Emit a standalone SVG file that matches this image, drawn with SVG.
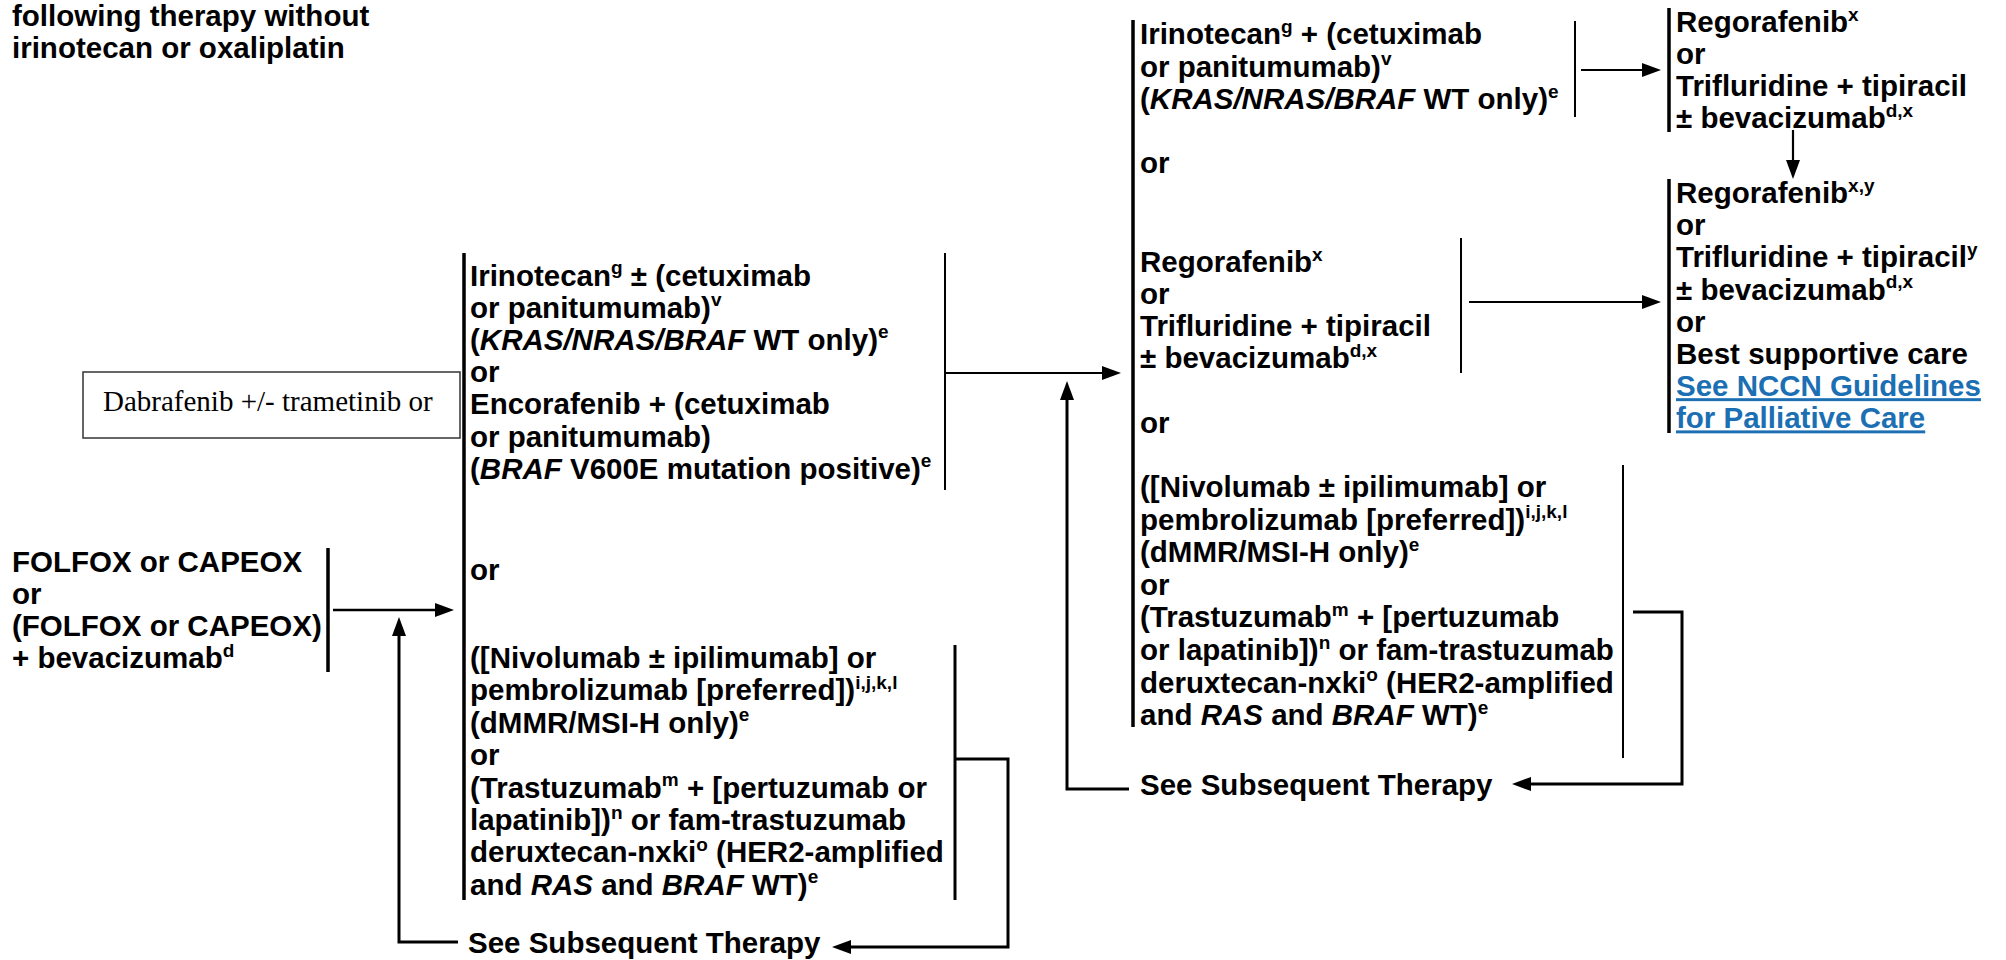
<svg xmlns="http://www.w3.org/2000/svg" width="2006" height="960" viewBox="0 0 2006 960">
<style>
text{font-family:"Liberation Sans",Arial,Helvetica,sans-serif;font-weight:bold;font-size:29.5px;fill:#000}
.s{font-size:19px}
.i{font-style:italic}
.serif{font-family:"Liberation Serif","Times New Roman",serif;font-weight:normal;font-size:29px}
.link{fill:#1b6fb2;text-decoration:underline}
.bl{stroke:#000;stroke-width:3.5;fill:none}
.br{stroke:#000;stroke-width:2;fill:none}
.ar{stroke:#000;stroke-width:2.2;fill:none;marker-end:url(#ah)}
.fb{stroke:#000;stroke-width:3;fill:none;marker-end:url(#ah)}
.box{fill:#fff;stroke:#333;stroke-width:1.5}
</style>
<defs>
<marker id="ah" markerUnits="userSpaceOnUse" markerWidth="19" markerHeight="14" refX="9" refY="7" orient="auto">
<path d="M0,0 L19,7 L0,14 z" fill="#000"/>
</marker>
</defs>
<rect width="2006" height="960" fill="#fff"/>

<g id="title">
<text x="12" y="26">following therapy without</text>
<text x="12" y="58">irinotecan or oxaliplatin</text>
</g>

<g id="dabrafenib-box">
<rect class="box" x="83" y="372" width="377" height="66"/>
<text class="serif" x="103" y="411">Dabrafenib +/- trametinib or</text>
</g>

<g id="folfox">
<text x="12" y="572">FOLFOX or CAPEOX</text>
<text x="12" y="604">or</text>
<text x="12" y="636">(FOLFOX or CAPEOX)</text>
<text x="12" y="668">+ bevacizumab<tspan class="s" dy="-11.5">d</tspan></text>
<line class="bl" x1="328" y1="548" x2="328" y2="672"/>
</g>

<g id="second-line-upper">
<text x="470" y="285.5">Irinotecan<tspan class="s" dy="-11.5">g</tspan><tspan dy="11.5"> ± (cetuximab</tspan></text>
<text x="470" y="317.7">or panitumumab)<tspan class="s" dy="-11.5">v</tspan></text>
<text x="470" y="349.9">(<tspan class="i">KRAS/NRAS/BRAF</tspan> WT only)<tspan class="s" dy="-11.5">e</tspan></text>
<text x="470" y="382.1">or</text>
<text x="470" y="414.3">Encorafenib + (cetuximab</text>
<text x="470" y="446.5">or panitumumab)</text>
<text x="470" y="478.7">(<tspan class="i">BRAF</tspan> V600E mutation positive)<tspan class="s" dy="-11.5">e</tspan></text>
<line class="br" x1="945" y1="253" x2="945" y2="490"/>
</g>

<g id="second-line-or">
<text x="470" y="580">or</text>
</g>

<g id="second-line-lower">
<text x="470" y="668">([Nivolumab ± ipilimumab] or</text>
<text x="470" y="700.4">pembrolizumab [preferred])<tspan class="s" dy="-11.5">i,j,k,l</tspan></text>
<text x="470" y="732.8">(dMMR/MSI-H only)<tspan class="s" dy="-11.5">e</tspan></text>
<text x="470" y="765.2">or</text>
<text x="470" y="797.6">(Trastuzumab<tspan class="s" dy="-11.5">m</tspan><tspan dy="11.5"> + [pertuzumab or</tspan></text>
<text x="470" y="830">lapatinib])<tspan class="s" dy="-11.5">n</tspan><tspan dy="11.5"> or fam-trastuzumab</tspan></text>
<text x="470" y="862.4">deruxtecan-nxki<tspan class="s" dy="-11.5">o</tspan><tspan dy="11.5"> (HER2-amplified</tspan></text>
<text x="470" y="894.8">and <tspan class="i">RAS</tspan> and <tspan class="i">BRAF</tspan> WT)<tspan class="s" dy="-11.5">e</tspan></text>
<line class="bl" x1="955" y1="645" x2="955" y2="900" style="stroke-width:3"/>
</g>

<g id="see-subsequent-1">
<text x="468" y="953">See Subsequent Therapy</text>
</g>

<g id="third-line-upper">
<text x="1140" y="44">Irinotecan<tspan class="s" dy="-11.5">g</tspan><tspan dy="11.5"> + (cetuximab</tspan></text>
<text x="1140" y="76.5">or panitumumab)<tspan class="s" dy="-11.5">v</tspan></text>
<text x="1140" y="109">(<tspan class="i">KRAS/NRAS/BRAF</tspan> WT only)<tspan class="s" dy="-11.5">e</tspan></text>
<line class="br" x1="1575" y1="21" x2="1575" y2="117"/>
</g>

<g id="third-line-or1">
<text x="1140" y="173">or</text>
</g>

<g id="third-line-rego">
<text x="1140" y="272">Regorafenib<tspan class="s" dy="-11.5">x</tspan></text>
<text x="1140" y="304">or</text>
<text x="1140" y="336">Trifluridine + tipiracil</text>
<text x="1140" y="368">± bevacizumab<tspan class="s" dy="-11.5">d,x</tspan></text>
<line class="br" x1="1461" y1="238" x2="1461" y2="373"/>
</g>

<g id="third-line-or2">
<text x="1140" y="433">or</text>
</g>

<g id="third-line-lower">
<text x="1140" y="497">([Nivolumab ± ipilimumab] or</text>
<text x="1140" y="529.6">pembrolizumab [preferred])<tspan class="s" dy="-11.5">i,j,k,l</tspan></text>
<text x="1140" y="562.2">(dMMR/MSI-H only)<tspan class="s" dy="-11.5">e</tspan></text>
<text x="1140" y="594.8">or</text>
<text x="1140" y="627.4">(Trastuzumab<tspan class="s" dy="-11.5">m</tspan><tspan dy="11.5"> + [pertuzumab</tspan></text>
<text x="1140" y="660">or lapatinib])<tspan class="s" dy="-11.5">n</tspan><tspan dy="11.5"> or fam-trastuzumab</tspan></text>
<text x="1140" y="692.6">deruxtecan-nxki<tspan class="s" dy="-11.5">o</tspan><tspan dy="11.5"> (HER2-amplified</tspan></text>
<text x="1140" y="725.2">and <tspan class="i">RAS</tspan> and <tspan class="i">BRAF</tspan> WT)<tspan class="s" dy="-11.5">e</tspan></text>
<line class="br" x1="1623" y1="465" x2="1623" y2="758"/>
</g>

<g id="see-subsequent-2">
<text x="1140" y="795">See Subsequent Therapy</text>
</g>

<g id="fourth-line-upper">
<text x="1676" y="32">Regorafenib<tspan class="s" dy="-11.5">x</tspan></text>
<text x="1676" y="64">or</text>
<text x="1676" y="96">Trifluridine + tipiracil</text>
<text x="1676" y="128">± bevacizumab<tspan class="s" dy="-11.5">d,x</tspan></text>
<line class="bl" x1="1669" y1="8" x2="1669" y2="132"/>
</g>

<g id="fourth-line-lower">
<text x="1676" y="203">Regorafenib<tspan class="s" dy="-11.5">x,y</tspan></text>
<text x="1676" y="235.2">or</text>
<text x="1676" y="267.4">Trifluridine + tipiracil<tspan class="s" dy="-11.5">y</tspan></text>
<text x="1676" y="299.6">± bevacizumab<tspan class="s" dy="-11.5">d,x</tspan></text>
<text x="1676" y="331.8">or</text>
<text x="1676" y="364">Best supportive care</text>
<text class="link" x="1676" y="396.2">See NCCN Guidelines </text>
<text class="link" x="1676" y="428.4">for Palliative Care</text>
<line class="bl" x1="1669" y1="179" x2="1669" y2="433"/>
</g>

<g id="connectors">
<line class="bl" x1="464" y1="253" x2="464" y2="900"/>
<line class="bl" x1="1133" y1="20" x2="1133" y2="727"/>
<line class="ar" x1="333" y1="610" x2="444" y2="610" style="stroke-width:2.5"/>
<path class="fb" d="M458,942 H399 V627"/>
<line class="ar" x1="945" y1="373" x2="1111" y2="373"/>
<path class="fb" d="M955,759 H1008 V947 H842"/>
<path class="fb" d="M1129,789 H1067 V391"/>
<line class="ar" x1="1581" y1="70" x2="1651" y2="70"/>
<line class="ar" x1="1469" y1="302" x2="1651" y2="302"/>
<path class="fb" d="M1633,612 H1682 V784 H1522"/>
<line class="ar" x1="1793" y1="130" x2="1793" y2="169"/>
</g>
</svg>
